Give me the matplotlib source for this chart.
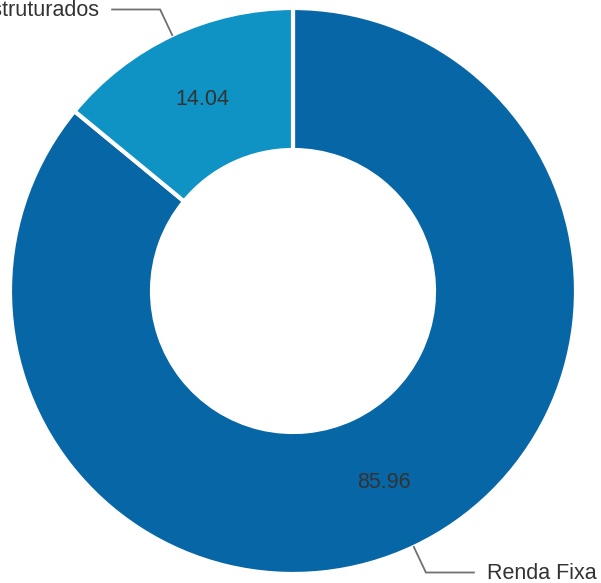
import numpy as np
import matplotlib
matplotlib.use("Agg")
import matplotlib.pyplot as plt

# Dados do gráfico (donut)
categorias = ["Renda Fixa", "Estruturados"]
valores = [85.96, 14.04]
cores = ["#0766a6", "#0f93c4"]

plt.rcParams["font.family"] = ["Liberation Sans", "DejaVu Sans"]

W, H = 601, 583
fig = plt.figure(figsize=(W / 100, H / 100), dpi=100)
ax = fig.add_axes([0, 0, 1, 1])

cx, cy = 293, 292      # centro em pixels
R, r_in = 283, 141     # raio externo / interno

wedges, _, autotexts = ax.pie(
    valores,
    colors=cores,
    startangle=90,
    counterclock=False,
    radius=R,
    center=(cx, cy),
    autopct="%.2f",
    pctdistance=0.75,
    wedgeprops=dict(width=R - r_in, edgecolor="white", linewidth=3,
                    joinstyle="round"),
    textprops=dict(color="#333333", fontsize=15.5),
)

ax.set_xlim(0, W)
ax.set_ylim(0, H)
ax.set_aspect("equal")
ax.axis("off")

# rótulos externos com linha guia
for w, nome in zip(wedges, categorias):
    ang = np.deg2rad((w.theta1 + w.theta2) / 2)
    x0, y0 = cx + R * np.cos(ang), cy + R * np.sin(ang)
    x1, y1 = cx + 1.1 * R * np.cos(ang), cy + 1.1 * R * np.sin(ang)
    lado = 1 if np.cos(ang) >= 0 else -1
    x2 = x1 + lado * 48
    ax.plot([x0, x1, x2], [y0, y1, y1], color="#707070", lw=1.3,
            solid_joinstyle="miter", clip_on=False)
    ax.text(x2 + lado * 13, y1 - 1, nome, ha="left" if lado > 0 else "right",
            va="center", fontsize=15.5, color="#333333")

fig.savefig("out.png", dpi=100)
